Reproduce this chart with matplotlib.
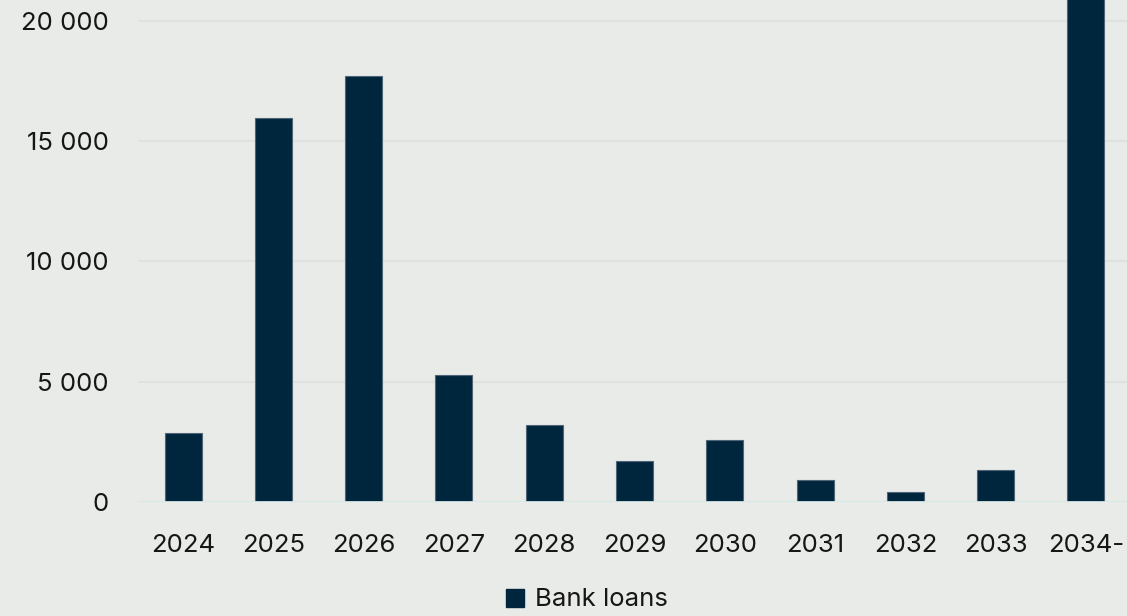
import matplotlib
matplotlib.use("Agg")
import matplotlib.pyplot as plt
from matplotlib.patches import Patch
from matplotlib.ticker import FuncFormatter

# maturity profile, bank loans
years = ["2024", "2025", "2026", "2027", "2028", "2029", "2030", "2031", "2032", "2033", "2034-"]
bank_loans = [2870, 15970, 17710, 5280, 3200, 1700, 2580, 910, 420, 1330, 24500]

bg = "#e9ebe8"
navy = "#00263e"
plt.rcParams["font.family"] = ["Inter", "DejaVu Sans"]

fig = plt.figure(figsize=(11.27, 6.16), dpi=100, facecolor=bg)
ax = fig.add_axes([138 / 1127, 114 / 616, 993 / 1127, 502 / 616], facecolor=bg)

x = range(len(years))
ax.bar(x, bank_loans, width=0.41, color=navy, edgecolor="#4d6577", linewidth=0.8, zorder=3)

ax.set_xlim(-0.5, len(years) - 0.5)
ax.set_ylim(0, 20873)
ax.set_yticks([0, 5000, 10000, 15000, 20000])
ax.yaxis.set_major_formatter(FuncFormatter(lambda v, p: f"{int(v):,}".replace(",", " ")))
ax.set_xticks(list(x))
ax.set_xticklabels(years)

ax.grid(axis="y", color="#dfe2de", linewidth=1.5, zorder=0)
ax.axhline(0, color="#d3e9e6", linewidth=2, zorder=4)
for s in ax.spines.values():
    s.set_visible(False)
ax.tick_params(axis="both", length=0, labelsize=18.5, labelcolor="#161616")
ax.tick_params(axis="y", pad=21)
ax.tick_params(axis="x", pad=23)

fig.legend(handles=[Patch(facecolor=navy, edgecolor=navy, label="Bank loans")],
           loc="center", bbox_to_anchor=(587 / 1127, 1 - 600 / 616), frameon=False,
           fontsize=18.5, handlelength=0.7, handleheight=0.7, handletextpad=0.4,
           labelcolor="#161616")

fig.savefig("out.png", dpi=100, facecolor=bg)
